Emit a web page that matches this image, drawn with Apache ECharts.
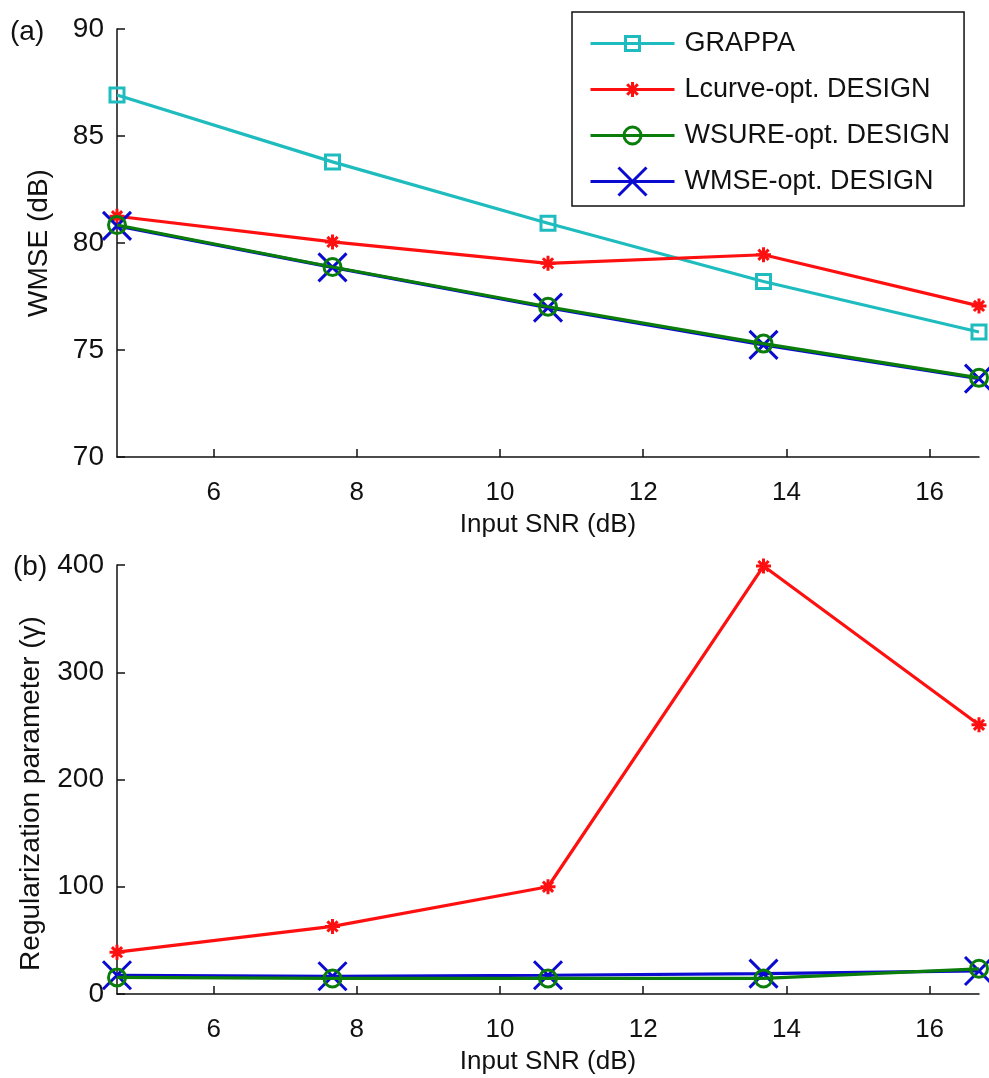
<!DOCTYPE html>
<html><head><meta charset="utf-8">
<script src="https://cdn.jsdelivr.net/npm/echarts@6/dist/echarts.min.js"></script>
<style>html,body{margin:0;padding:0;background:#fff}#c{width:989px;height:1078px}</style>
</head><body><div id="c"></div>
<script>
// ---- data ----
const snr = [4.65, 7.66, 10.67, 13.68, 16.69];
const xTicks = [6, 8, 10, 12, 14, 16];
const seriesNames = ['GRAPPA', 'Lcurve-opt. DESIGN', 'WSURE-opt. DESIGN', 'WMSE-opt. DESIGN'];
const wmseGRAPPA = [86.92, 83.79, 80.92, 78.2, 75.84];
const wmseLcurve = [81.25, 80.05, 79.05, 79.45, 77.06];
const wmseWSURE = [80.84, 78.88, 77.02, 75.3, 73.7];
const wmseWMSE = [80.8, 78.86, 76.98, 75.24, 73.66];
const gammaLcurve = [39, 63, 100, 399, 251];
const gammaWSURE = [15.5, 14.5, 14.5, 14.5, 23.5];
const gammaWMSE = [17.5, 16.5, 17.5, 19, 21.5];
const yTop = {min: 70, max: 90, interval: 5};
const yBot = {min: 0, max: 400, interval: 100};

// ---- styles ----
const FONT = 'Liberation Sans, Arial, Helvetica, sans-serif';
const STAR = 'path://M5,0L5,10M0,5L10,5M1.6,1.6L8.4,8.4M8.4,1.6L1.6,8.4';
const XMARK = 'path://M0,0L10,10M10,0L0,10';
const styles = [
  {color: '#1fbcbf', symbol: 'rect', size: 14, fillSym: false,
   icon: 'path://M0,0M84,28M0,14L84,14M35,7L49,7L49,21L35,21Z'},
  {color: '#ff1010', symbol: STAR, size: 15, fillSym: true,
   icon: 'path://M0,0M84,28M0,14L84,14M42,6.5L42,21.5M34.5,14L49.5,14M36.7,8.7L47.3,19.3M47.3,8.7L36.7,19.3'},
  {color: '#0a7d0a', symbol: 'circle', size: 17, fillSym: false,
   icon: 'path://M0,0M84,28M0,14L84,14M50.5,14A8.5,8.5,0,1,1,33.5,14A8.5,8.5,0,1,1,50.5,14'},
  {color: '#0a0ad0', symbol: XMARK, size: 28, fillSym: true,
   icon: 'path://M0,0M84,28M0,14L84,14M28,0L56,28M56,0L28,28'}
];

function mk(i, data, xi, yi) {
  const s = styles[i];
  return {
    name: seriesNames[i], type: 'line', xAxisIndex: xi, yAxisIndex: yi,
    data: snr.map((x, k) => [x, data[k]]),
    symbol: s.symbol, symbolSize: s.size, showAllSymbol: true,
    lineStyle: {color: s.color, width: 3.2},
    itemStyle: {color: s.fillSym ? s.color : 'rgba(255,255,255,0)', borderColor: s.color, borderWidth: 3},
    emphasis: {disabled: true}, animation: false, clip: false,
    z: i === 2 ? 4 : 3
  };
}

function xAx(gi) {
  return {
    type: 'value', gridIndex: gi, min: snr[0], max: snr[snr.length - 1],
    name: 'Input SNR (dB)', nameLocation: 'middle', nameGap: 55,
    nameTextStyle: {fontFamily: FONT, fontSize: 26, color: '#111'},
    axisLine: {lineStyle: {color: '#111', width: 1.5}},
    axisTick: {inside: true, length: 8, customValues: xTicks, lineStyle: {color: '#111', width: 1.5}},
    axisLabel: {customValues: xTicks, margin: 23, fontFamily: FONT, fontSize: 26, color: '#111'},
    splitLine: {show: false}
  };
}
function yAx(gi, r, name, gap, pad) {
  return {
    type: 'value', gridIndex: gi, min: r.min, max: r.max, interval: r.interval,
    name: name, nameLocation: 'middle', nameGap: gap, nameRotate: 90,
    nameTextStyle: {fontFamily: FONT, fontSize: 28, color: '#111', padding: pad},
    axisLine: {show: true, lineStyle: {color: '#111', width: 1.5}},
    axisTick: {inside: true, length: 8, lineStyle: {color: '#111', width: 1.5}},
    axisLabel: {margin: 13, fontFamily: FONT, fontSize: 28, color: '#111'},
    splitLine: {show: false}
  };
}

const chart = echarts.init(document.getElementById('c'), null, {renderer: 'canvas'});
chart.setOption({
  backgroundColor: '#fff',
  animation: false,
  grid: [
    {left: 117, right: 10, top: 29, height: 428},
    {left: 117, right: 10, top: 565, height: 429}
  ],
  xAxis: [xAx(0), xAx(1)],
  yAxis: [yAx(0, yTop, 'WMSE (dB)', 64, [0, 0, 0, 0]),
          yAx(1, yBot, 'Regularization parameter (\u03b3)', 72, [0, 28, 0, 0])],
  legend: {
    data: seriesNames.map((n, i) => ({
      name: n, icon: styles[i].icon,
      itemStyle: {color: 'rgba(0,0,0,0)', borderColor: styles[i].color, borderWidth: 3}
    })),
    orient: 'vertical', left: 572, top: 12,
    padding: [16, 14, 9, 17], itemGap: 15, itemWidth: 84, itemHeight: 28,
    symbolKeepAspect: false,
    backgroundColor: '#fff', borderColor: '#111', borderWidth: 1.5,
    textStyle: {fontFamily: FONT, fontSize: 27, color: '#111', padding: [0, 0, 0, 5], lineHeight: 28},
    selectedMode: false
  },
  graphic: [
    {type: 'text', left: 10, top: 18, style: {text: '(a)', font: '28px ' + FONT, fill: '#111'}},
    {type: 'text', left: 13, top: 553, style: {text: '(b)', font: '28px ' + FONT, fill: '#111'}}
  ],
  series: [
    mk(0, wmseGRAPPA, 0, 0), mk(1, wmseLcurve, 0, 0), mk(2, wmseWSURE, 0, 0), mk(3, wmseWMSE, 0, 0),
    mk(1, gammaLcurve, 1, 1), mk(2, gammaWSURE, 1, 1), mk(3, gammaWMSE, 1, 1)
  ]
});
</script></body></html>
